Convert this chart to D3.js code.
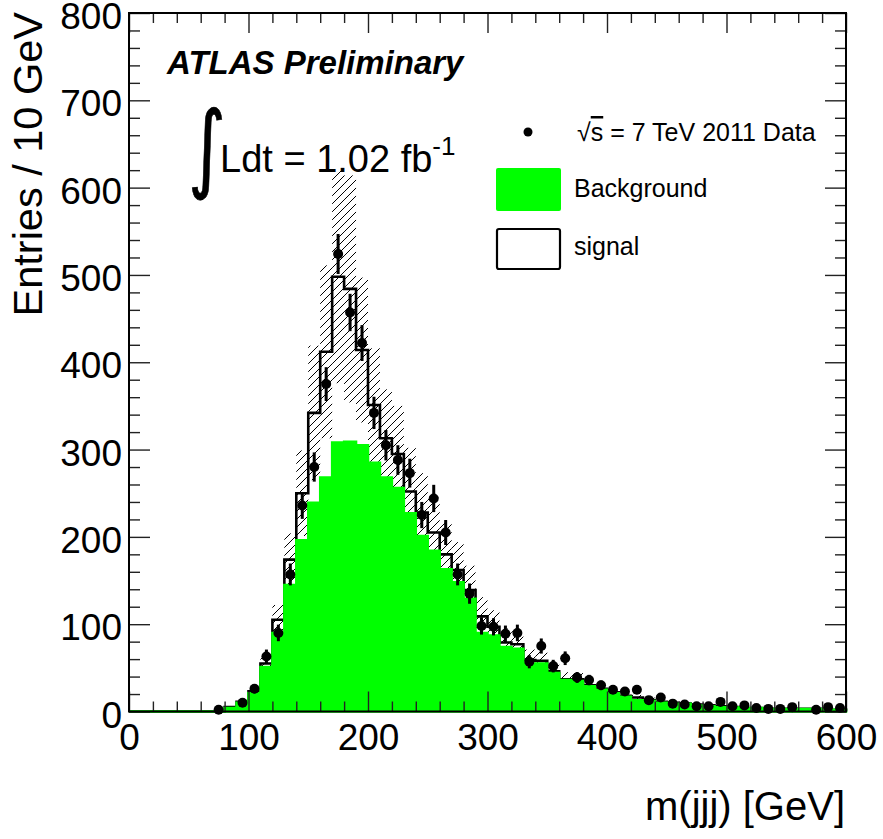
<!DOCTYPE html>
<html><head><meta charset="utf-8">
<script src="https://cdn.jsdelivr.net/npm/d3@7"></script>
<style>
body{margin:0;background:#fff}
svg{display:block}
text{font-family:"Liberation Sans",Arial,Helvetica,sans-serif;fill:#000}
</style>
</head><body><svg id="c" width="883" height="839"></svg>
<script>
// ---- data (10 GeV bins from 0 to 600 GeV) ----
const binLow = d3.range(0, 600, 10);
const background = [0,0,0,0,0,0,0,0,4,10, 21,51,90,145,196,239,268,308,309,305,
  285,268,256,227,201,184,163,148,129,90, 87,74,72,55,55,44,36,35,29,25,
  21,17,13,12,10,9,9,7,6,5, 5,4,4,3,3,3,3,3,2,2];
const signal = [0,0,0,0,0,0,0,0,1,1, 2,4,15,29,54,103,144,190,175,109,
  66,45,39,25,27,21,17,14,10,19, 10,5,5,4,3,2,1,2,1,1,
  1,1,3,1,1,1,0,1,1,1, 0,0,0,0,0,0,0,0,0,0];
const bandErr = [0,0,0,0,0,0,0,0,1,2, 4,9,17,30,49,77,99,122,130,83,
  65,56,55,50,45,40,36,32,28,22, 19,16,15,12,11,9,8,7,6,5,
  4,4,3,3,2,2,2,2,1,1, 1,1,1,1,1,1,1,1,1,1];
const dataCounts = [null,null,null,null,null,null,null,2,null,10, 26,63,90,157,236,280,375,524,457,422,
  342,305,288,273,225,244,205,157,135,98, 97,89,90,57,75,52,61,39,36,30,
  25,23,25,13,16,9,8,6,6,11, 6,7,4,3,3,5,null,2,5,4];
const xTicks = [0,100,200,300,400,500,600];
const yTicks = [0,100,200,300,400,500,600,700,800];
const xLabel = "m(jjj) [GeV]";
const yLabel = "Entries / 10 GeV";

const svg = d3.select("#c");
const x = d3.scaleLinear().domain([0,600]).range([129,846]);
const y = d3.scaleLinear().domain([0,800]).range([711.5,13]);
const binW = 10;
const total = background.map((b,i)=>b+signal[i]);

// hatch pattern
const defs = svg.append("defs");
defs.append("pattern").attr("id","hatch").attr("patternUnits","userSpaceOnUse")
  .attr("width",8).attr("height",8)
  .append("path").attr("d","M0,8 L8,0 M-1,1 L1,-1 M7,9 L9,7")
  .attr("stroke","#000").attr("stroke-width",1);

const plot = svg.append("g");

// uncertainty band
plot.selectAll("rect.band").data(binLow.map((l,i)=>({l, t:total[i], e:bandErr[i]})).filter(d=>d.e>0))
  .enter().append("rect").attr("class","band")
  .attr("x",d=>x(d.l)).attr("width",d=>x(d.l+binW)-x(d.l))
  .attr("y",d=>y(d.t+d.e)).attr("height",d=>y(d.t-d.e)-y(d.t+d.e))
  .attr("fill","url(#hatch)");

// total (signal stacked on background) outline
const stepPts = (arr)=>binLow.map((l,i)=>[l,arr[i]]).concat([[600,arr[arr.length-1]]]);
const line = d3.line().x(d=>x(d[0])).y(d=>y(d[1])).curve(d3.curveStepAfter);
const totPts = [[0,0]].concat(stepPts(total)).concat([[600,0]]);
plot.append("path").attr("d", line(totPts))
  .attr("fill","none").attr("stroke","#000").attr("stroke-width",2.6);

// background fill
const area = d3.area().x(d=>x(d[0])).y0(y(0)).y1(d=>y(d[1])).curve(d3.curveStepAfter);
plot.append("path").attr("d", area(stepPts(background)))
  .attr("fill","#00ff00").attr("stroke","#00ff00").attr("stroke-width",2.5);

// data points
const pts = binLow.map((l,i)=>({c:l+binW/2, v:dataCounts[i]})).filter(d=>d.v!==null);
plot.selectAll("line.err").data(pts).enter().append("line")
  .attr("x1",d=>x(d.c)).attr("x2",d=>x(d.c))
  .attr("y1",d=>y(d.v+Math.sqrt(d.v))).attr("y2",d=>y(Math.max(0,d.v-Math.sqrt(d.v))))
  .attr("stroke","#000").attr("stroke-width",3);
plot.selectAll("circle.pt").data(pts).enter().append("circle")
  .attr("cx",d=>x(d.c)).attr("cy",d=>y(d.v)).attr("r",5).attr("fill","#000");

// axes
const tickCol = "#222";
function styleAxis(g){ g.select(".domain").remove(); g.selectAll(".tick line").attr("stroke",tickCol).attr("stroke-width",1.4); }
const minorX = d3.range(0,601,20).filter(v=>v%100!==0);
const minorY = d3.range(0,801,20).filter(v=>v%100!==0);

const gb = svg.append("g").attr("transform","translate(0,711.5)")
  .call(d3.axisBottom(x).tickValues(xTicks).tickSizeInner(-20).tickSizeOuter(0).tickFormat(d3.format("d")));
styleAxis(gb);
gb.selectAll(".tick text").attr("y",38.5).attr("dy",null).attr("font-size",37).attr("font-family",null);
svg.append("g").attr("transform","translate(0,711.5)")
  .call(d3.axisBottom(x).tickValues(minorX).tickSizeInner(-10).tickSizeOuter(0).tickFormat("")).call(styleAxis);
svg.append("g").attr("transform","translate(0,13)")
  .call(d3.axisTop(x).tickValues(xTicks).tickSizeInner(-20).tickSizeOuter(0).tickFormat("")).call(styleAxis);
svg.append("g").attr("transform","translate(0,13)")
  .call(d3.axisTop(x).tickValues(minorX).tickSizeInner(-10).tickSizeOuter(0).tickFormat("")).call(styleAxis);

const gl = svg.append("g").attr("transform","translate(129,0)")
  .call(d3.axisLeft(y).tickValues(yTicks).tickSizeInner(-21).tickSizeOuter(0).tickPadding(7).tickFormat(d3.format("d")));
styleAxis(gl);
gl.selectAll(".tick text").attr("dy","0.42em").attr("font-size",37).attr("font-family",null);
svg.append("g").attr("transform","translate(129,0)")
  .call(d3.axisLeft(y).tickValues(minorY).tickSizeInner(-11).tickSizeOuter(0).tickFormat("")).call(styleAxis);
svg.append("g").attr("transform","translate(846,0)")
  .call(d3.axisRight(y).tickValues(yTicks).tickSizeInner(-21).tickSizeOuter(0).tickFormat("")).call(styleAxis);
svg.append("g").attr("transform","translate(846,0)")
  .call(d3.axisRight(y).tickValues(minorY).tickSizeInner(-11).tickSizeOuter(0).tickFormat("")).call(styleAxis);

// frame
svg.append("rect").attr("x",129).attr("y",13).attr("width",846-129).attr("height",711.5-13)
  .attr("fill","none").attr("stroke","#000").attr("stroke-width",2);

// axis titles
svg.append("text").attr("x",845).attr("y",820).attr("text-anchor","end").attr("font-size",40).text(xLabel);
svg.append("text").attr("transform","translate(42,12) rotate(-90)").attr("text-anchor","end").attr("font-size",41.5).text(yLabel);

// ATLAS label
svg.append("text").attr("x",167).attr("y",74).attr("font-size",33).attr("font-weight","bold").attr("font-style","italic").text("ATLAS Preliminary");

// luminosity
svg.append("text").attr("transform","translate(188,180) scale(0.85,1.12)").attr("font-size",86)
  .style("font-family","'DejaVu Sans'").style("stroke","#000").style("stroke-width",0.6).text("∫");
const lum = svg.append("text").attr("x",220).attr("y",172).attr("font-size",38);
lum.append("tspan").text("Ldt = 1.02 fb");
lum.append("tspan").attr("dy",-17).attr("font-size",26).text("-1");

// legend
svg.append("circle").attr("cx",528).attr("cy",132).attr("r",4.5).attr("fill","#000");
const lt = svg.append("text").attr("x",577).attr("y",141).attr("font-size",25);
lt.append("tspan").text("√");
lt.append("tspan").style("text-decoration","overline").text("s");
lt.append("tspan").text(" = 7 TeV 2011 Data");
svg.append("rect").attr("x",496).attr("y",168).attr("width",65).attr("height",43).attr("rx",2)
  .attr("fill","#00ff00");
svg.append("text").attr("x",574).attr("y",197).attr("font-size",25).text("Background");
svg.append("rect").attr("x",497).attr("y",229).attr("width",63).attr("height",40).attr("rx",2)
  .attr("fill","#fff").attr("stroke","#000").attr("stroke-width",2.2);
svg.append("text").attr("x",574).attr("y",255).attr("font-size",25).text("signal");
</script>
</body></html>
